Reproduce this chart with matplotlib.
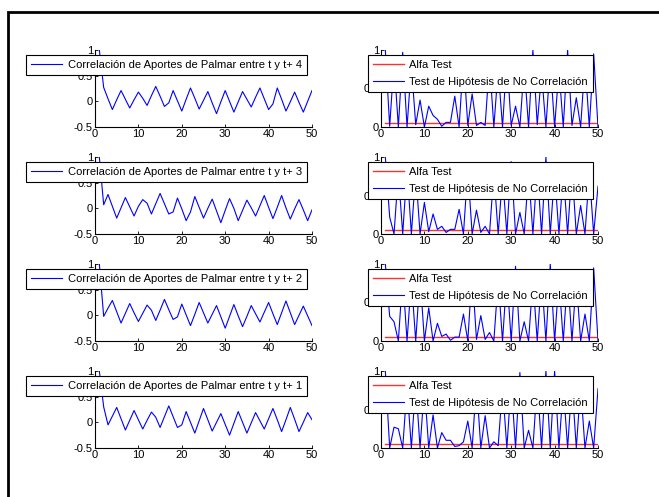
import numpy as np
import matplotlib
matplotlib.use('Agg')
import matplotlib.pyplot as plt
from matplotlib.patches import Rectangle

plt.rcParams['font.family'] = ['Liberation Sans', 'DejaVu Sans']
plt.rcParams['axes.unicode_minus'] = False

# retardos 1..50
lags = np.arange(1, 51)

# correlaciones (t+4, t+3, t+2, t+1)
corr_4 = [1.0, 0.27, 0.05, -0.16, 0.03, 0.21, 0.04, -0.13, 0.03, 0.18,
          0.06, -0.08, 0.11, 0.29, 0.10, -0.10, -0.03, 0.21, 0.01, -0.19,
          0.04, 0.26, 0.06, -0.15, 0.02, 0.19, -0.03, -0.24, -0.01, 0.21,
          0.00, -0.21, -0.01, 0.19, 0.04, -0.11, 0.08, 0.26, 0.05, -0.16,
          -0.05, 0.26, 0.04, -0.19, -0.01, 0.18, -0.02, -0.21, 0.00, 0.21]
corr_3 = [1.0, 0.07, 0.27, 0.04, -0.19, 0.01, 0.21, 0.03, -0.15, 0.04,
          0.17, 0.10, -0.11, 0.09, 0.29, 0.09, -0.11, -0.07, 0.20, -0.01,
          -0.24, -0.07, 0.23, 0.02, -0.19, 0.00, 0.18, -0.05, -0.28, -0.04,
          0.19, 0.00, -0.24, -0.04, 0.16, 0.01, -0.15, 0.05, 0.25, 0.02,
          -0.20, 0.02, 0.25, 0.01, -0.21, -0.01, 0.17, -0.03, -0.24, -0.03]
corr_2 = [1.0, -0.02, 0.14, 0.29, 0.07, -0.15, 0.04, 0.23, 0.05, -0.12,
          0.04, 0.20, 0.10, -0.10, 0.10, 0.31, 0.11, -0.08, -0.03, 0.22,
          0.01, -0.20, 0.02, 0.25, 0.05, -0.15, 0.02, 0.19, -0.03, -0.25,
          -0.02, 0.21, -0.01, -0.22, -0.02, 0.19, 0.03, -0.13, 0.06, 0.25,
          0.03, -0.18, 0.05, 0.28, 0.05, -0.18, 0.00, 0.18, -0.01, -0.20]
corr_1 = [1.0, 0.30, -0.05, 0.12, 0.29, 0.07, -0.15, 0.04, 0.23, 0.05,
          -0.13, 0.04, 0.20, 0.10, -0.10, 0.11, 0.32, 0.11, -0.10, -0.05,
          0.21, 0.00, -0.21, 0.03, 0.27, 0.05, -0.17, 0.00, 0.17, -0.04,
          -0.25, -0.02, 0.21, 0.00, -0.21, -0.01, 0.19, 0.03, -0.13, 0.07,
          0.27, 0.05, -0.18, 0.05, 0.29, 0.06, -0.18, 0.00, 0.19, 0.05]

# p-valores del test de no correlación
pval_4 = [1.0, 0.01, 0.85, 0.00, 0.97, 0.00, 0.80, 0.03, 0.35, 0.00,
          0.27, 0.15, 0.10, 0.01, 0.06, 0.06, 0.40, 0.00, 0.90, 0.02,
          0.43, 0.02, 0.06, 0.02, 0.85, 0.00, 0.75, 0.00, 0.90, 0.02,
          0.27, 0.00, 0.80, 0.00, 1.00, 0.03, 0.70, 0.00, 0.85, 0.00,
          0.75, 0.00, 1.00, 0.02, 0.38, 0.00, 0.85, 0.00, 0.95, 0.00]
pval_3 = [1.0, 0.22, 0.00, 0.80, 0.00, 0.85, 0.00, 0.80, 0.00, 0.41,
          0.03, 0.26, 0.06, 0.10, 0.02, 0.06, 0.06, 0.32, 0.00, 0.85,
          0.00, 0.31, 0.02, 0.10, 0.00, 0.80, 0.00, 0.75, 0.00, 0.94,
          0.00, 0.28, 0.00, 0.80, 0.00, 0.85, 0.00, 1.00, 0.00, 0.80,
          0.00, 0.80, 0.00, 0.85, 0.00, 0.37, 0.00, 0.80, 0.00, 0.62]
pval_2 = [1.0, 0.32, 0.25, 0.00, 0.85, 0.00, 0.80, 0.00, 0.85, 0.00,
          0.43, 0.00, 0.23, 0.06, 0.09, 0.01, 0.05, 0.05, 0.35, 0.00,
          0.90, 0.02, 0.33, 0.02, 0.11, 0.00, 0.80, 0.00, 0.85, 0.00,
          0.97, 0.00, 0.25, 0.00, 0.80, 0.00, 0.85, 0.00, 1.00, 0.00,
          0.80, 0.00, 0.85, 0.00, 0.80, 0.00, 0.35, 0.00, 0.95, 0.00]
pval_1 = [1.0, 0.00, 0.27, 0.25, 0.00, 0.80, 0.00, 0.85, 0.00, 0.80,
          0.00, 0.43, 0.00, 0.20, 0.10, 0.10, 0.02, 0.03, 0.08, 0.35,
          0.00, 0.85, 0.00, 0.42, 0.00, 0.08, 0.03, 0.80, 0.00, 0.85,
          0.00, 0.98, 0.00, 0.23, 0.00, 0.85, 0.00, 1.00, 0.00, 1.00,
          0.00, 0.80, 0.00, 0.85, 0.00, 0.80, 0.00, 0.35, 0.00, 0.77]
alfa = 0.05

horizons = [4, 3, 2, 1]
corrs = [corr_4, corr_3, corr_2, corr_1]
pvals = [pval_4, pval_3, pval_2, pval_1]

W, H = 659, 497
fig = plt.figure(figsize=(W / 100, H / 100), dpi=100)

# marco negro del figure (estilo MATLAB)
fig.patches.append(Rectangle((8 / W, -0.2), 2.0, 1.2 - 12 / H, transform=fig.transFigure,
                             fill=False, edgecolor='black', linewidth=2.0))

fs = 8
bottoms = [127, 234, 341, 448]
h = 77

def style(ax):
    for s in ['top', 'right']:
        ax.spines[s].set_visible(False)
    for s in ['left', 'bottom']:
        ax.spines[s].set_linewidth(0.8)
    ax.tick_params(direction='in', length=2.5, width=0.6, labelsize=fs, pad=1.5)
    ax.set_xlim(0, 50)
    ax.set_xticks([0, 10, 20, 30, 40, 50])

leg_kw = dict(loc='upper right', bbox_to_anchor=(1, 1), borderaxespad=0.45, fontsize=fs,
              fancybox=False, framealpha=1, edgecolor='black', handlelength=2.8,
              handletextpad=0.5, borderpad=0.45, labelspacing=0.6)

for i, k in enumerate(horizons):
    y0 = 1 - bottoms[i] / H
    ax = fig.add_axes([95 / W, y0, 217 / W, h / H])
    ax.plot(lags, corrs[i], color='#0000ff', linewidth=0.8,
            label=f'Correlación de Aportes de Palmar entre t y t+ {k}')
    style(ax)
    ax.set_ylim(-0.5, 1)
    ax.set_yticks([-0.5, 0, 0.5, 1])
    ax.set_yticklabels(['-0.5', '0', '0.5', '1'])
    lg = ax.legend(**leg_kw)
    lg.get_frame().set_linewidth(0.8)

    ax2 = fig.add_axes([381 / W, y0, 217 / W, h / H])
    ax2.plot(lags, [alfa] * len(lags), color='#ff3030', linewidth=1.0, label='Alfa Test')
    ax2.plot(lags, pvals[i], color='#0000ff', linewidth=0.8,
             label='Test de Hipótesis de No Correlación')
    style(ax2)
    ax2.set_ylim(0, 1)
    ax2.set_yticks([0, 0.5, 1])
    ax2.set_yticklabels(['0', '0.5', '1'])
    lg2 = ax2.legend(**leg_kw)
    lg2.get_frame().set_linewidth(0.8)

fig.savefig('out.png', dpi=100)
